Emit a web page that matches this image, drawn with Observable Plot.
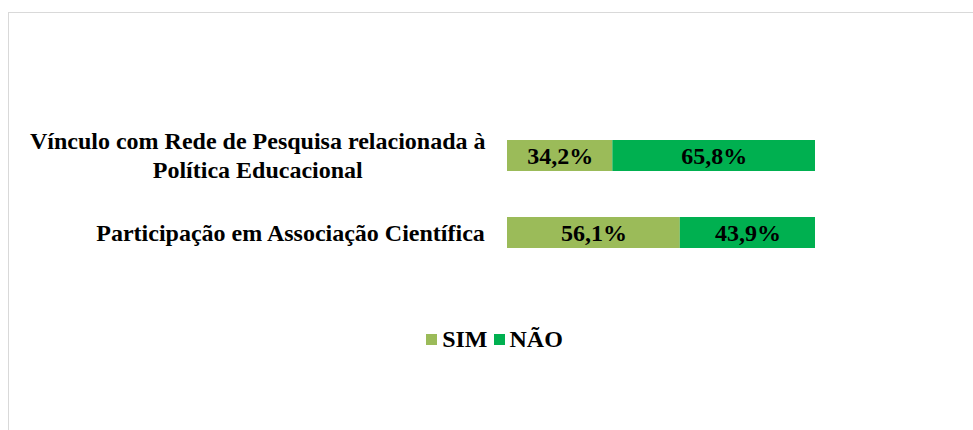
<!DOCTYPE html>
<html>
<head>
<meta charset="utf-8">
<script src="https://cdn.jsdelivr.net/npm/d3@7"></script>
<script src="https://cdn.jsdelivr.net/npm/@observablehq/plot@0.6"></script>
<style>
  html, body { margin: 0; padding: 0; background: #fff; overflow: hidden; }
  #page { position: relative; width: 973px; height: 430px; }
  #frame { position: absolute; left: 8px; top: 12px; width: 1100px; height: 600px;
           border-left: 1px solid #d9d9d9; border-top: 1px solid #d9d9d9; }
  #chart { position: absolute; left: 0; top: 0; }
  #legend { position: absolute; left: 0; top: 324px; width: 989px; text-align: center;
            font-family: "Liberation Serif", "Times New Roman", serif; font-weight: bold; font-size: 24px; color: #000; }
  #legend span.item { display: inline-flex; align-items: center; margin: 0 3px; }
  #legend span.sw { display: inline-block; width: 11px; height: 11px; margin-right: 5px; }
</style>
</head>
<body>
<div id="page">
  <div id="frame"></div>
  <div id="chart"></div>
  <div id="legend"></div>
</div>
<script>
// ---- data ----
const categories = [
  "Vínculo com Rede de Pesquisa relacionada à Política Educacional",
  "Participação em Associação Científica"
];
const categoryLines = [
  ["Vínculo com Rede de Pesquisa relacionada à", "Política Educacional"],
  ["Participação em Associação Científica"]
];
const series = ["SIM", "NÃO"];
const simValues = [34.2, 56.1];
const naoValues = [65.8, 43.9];
const colors = ["#9BBB59", "#00B050"];

// ---- build table ----
const rows = [];
categories.forEach((c, i) => {
  rows.push({category: c, series: "SIM", value: simValues[i]});
  rows.push({category: c, series: "NÃO", value: naoValues[i]});
});
const fmt = v => v.toFixed(1).replace(".", ",") + "%";

const FONT = '"Liberation Serif", "Times New Roman", serif';
const FS = 24;
const canvas = document.createElement("canvas");
const ctx = canvas.getContext("2d");
ctx.font = `bold ${FS}px ${FONT}`;

const labelGap = 22;
const lineHeight = 28.5;
const labelMarks = [];
categories.forEach((c, i) => {
  const lines = categoryLines[i];
  const blockW = Math.max(...lines.map(l => ctx.measureText(l).width));
  lines.forEach((line, j) => {
    labelMarks.push(Plot.text([{category: c, line}], {
      x: () => 0, y: "category", text: "line",
      textAnchor: "middle",
      dx: -labelGap - blockW / 2,
      dy: (j - (lines.length - 1) / 2) * lineHeight,
      fontSize: FS, fontWeight: "bold", fontFamily: FONT, fill: "#000"
    }));
  });
});

const plot = Plot.plot({
  width: 973,
  height: 300,
  marginLeft: 507,
  marginRight: 158,
  marginTop: 140,
  marginBottom: 52,
  x: {domain: [0, 100], axis: null},
  y: {domain: categories, axis: null, paddingInner: 0.6, paddingOuter: 0},
  color: {domain: series, range: colors},
  style: {fontFamily: FONT, background: "transparent"},
  marks: [
    Plot.barX(rows, Plot.stackX({x: "value", y: "category", fill: "series", z: "series", order: series})),
    Plot.text(rows, Plot.stackX({x: "value", y: "category", z: "series", order: series,
      text: d => fmt(d.value), fontSize: FS, fontWeight: "bold", fontFamily: FONT, fill: "#000"})),
    ...labelMarks
  ]
});
document.getElementById("chart").appendChild(plot);

const legend = document.getElementById("legend");
series.forEach((s, i) => {
  const item = document.createElement("span");
  item.className = "item";
  const sw = document.createElement("span");
  sw.className = "sw";
  sw.style.background = colors[i];
  item.appendChild(sw);
  item.appendChild(document.createTextNode(s));
  legend.appendChild(item);
});
</script>
</body>
</html>
